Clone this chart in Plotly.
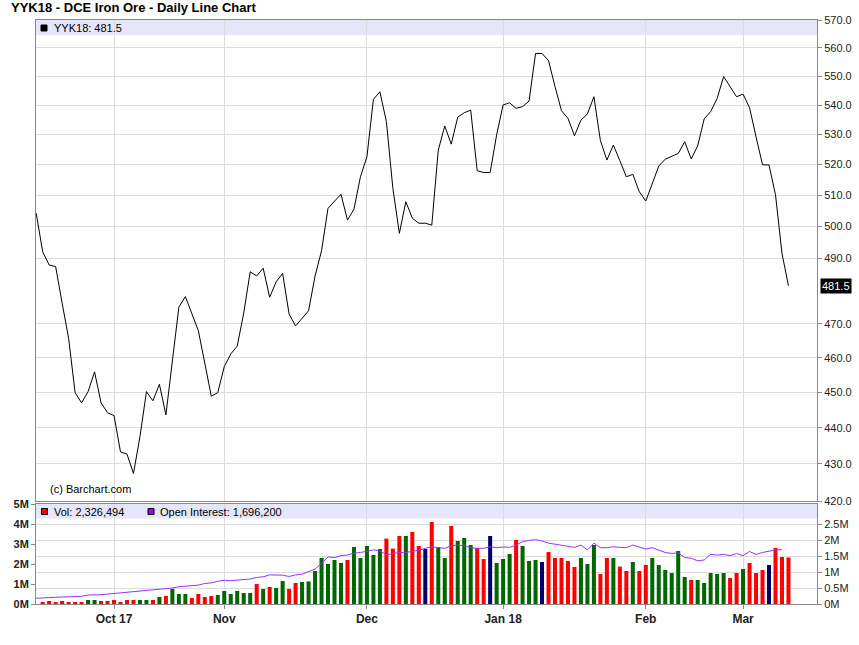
import math
import pandas as pd
import plotly.graph_objects as go

# ---------------- data ----------------
holidays = ["2017-10-02", "2017-10-03", "2017-10-04", "2017-10-05", "2017-10-06",
            "2018-01-01", "2018-02-15", "2018-02-16", "2018-02-19", "2018-02-20",
            "2018-02-21"]
dates = [d.strftime("%Y-%m-%d") for d in pd.bdate_range("2017-09-14", "2018-03-12")
         if d.strftime("%Y-%m-%d") not in holidays]

price = [504.2, 492.0, 487.9, 487.4, 476.2, 465.7, 449.9, 447.0, 450.2, 455.9,
         447.0, 444.2, 443.4, 433.3, 432.7, 427.4, 437.5, 450.2, 447.6, 452.3,
         443.6, 459.0, 475.0, 478.2, 473.2, 468.0, 458.4, 448.9, 449.9, 457.4,
         461.1, 463.4, 473.2, 485.8, 484.5, 486.9, 478.0, 482.7, 485.3, 472.9,
         469.4, 471.7, 473.9, 484.5, 492.3, 505.8, 507.9, 510.3, 502.0, 505.5,
         516.0, 522.6, 542.0, 544.6, 534.4, 512.2, 497.8, 507.9, 502.6, 501.0,
         501.0, 500.4, 524.8, 532.9, 526.8, 535.9, 537.4, 538.3, 518.0, 517.4,
         517.4, 529.9, 540.1, 540.8, 538.9, 539.5, 541.4, 558.0, 558.0, 555.5,
         546.4, 538.1, 535.5, 529.6, 534.9, 537.0, 542.9, 528.0, 521.5, 526.5,
         521.3, 516.0, 516.8, 511.1, 508.1, 513.8, 519.5, 521.8, 522.8, 523.7,
         527.6, 521.9, 526.2, 535.3, 537.8, 542.3, 549.9, 546.4, 542.9, 543.8,
         539.1, 529.3, 519.9, 519.9, 510.1, 491.5, 481.5]

# volume in millions
volume = [None, 0.10, 0.15, 0.10, 0.15, 0.10, 0.10, 0.10, 0.20, 0.20,
          0.15, 0.15, 0.20, 0.10, 0.20, 0.20, 0.20, 0.20, 0.20, 0.35,
          0.40, 0.75, 0.50, 0.50, 0.30, 0.50, 0.35, 0.40, 0.45, 0.65,
          0.50, 0.65, 0.55, 0.55, 1.00, 0.75, 0.85, 0.80, 1.15, 0.75,
          1.05, 1.10, 1.13, 1.65, 2.30, 2.00, 2.20, 2.05, 2.20, 2.85,
          2.30, 2.90, 2.45, 2.75, 3.27, 2.77, 3.40, 3.40, 3.60, 2.90,
          2.75, 4.10, 2.85, 2.30, 3.90, 3.15, 3.30, 2.95, 2.80, 2.25,
          3.40, 2.05, 2.25, 2.50, 3.20, 2.90, 2.15, 2.20, 2.10, 2.60,
          2.30, 2.30, 2.15, 1.85, 2.30, 2.00, 2.95, 1.50, 2.30, 2.30,
          1.87, 1.65, 2.10, 1.65, 1.95, 2.30, 1.95, 1.70, 1.55, 2.65,
          1.35, 1.20, 1.20, 1.05, 1.55, 1.50, 1.55, 1.30, 1.55, 1.75,
          2.05, 1.55, 1.70, 1.95, 2.80, 2.35, 2.326494]

# open interest in millions
open_interest = [0.18, 0.18, 0.20, 0.21, 0.22, 0.23, 0.23, 0.24, 0.28, 0.28,
                 0.29, 0.31, 0.33, 0.34, 0.37, 0.385, 0.41, 0.42, 0.44, 0.45,
                 0.47, 0.50, 0.54, 0.55, 0.57, 0.59, 0.64, 0.66, 0.71, 0.74,
                 0.73, 0.74, 0.75, 0.78, 0.83, 0.85, 0.91, 0.90, 0.90, 0.86,
                 0.91, 0.93, 1.00, 1.09, 1.27, 1.47, 1.45, 1.51, 1.53, 1.59,
                 1.61, 1.66, 1.69, 1.66, 1.53, 1.58, 1.61, 1.61, 1.64, 1.68,
                 1.74, 1.79, 1.76, 1.74, 1.82, 1.84, 1.82, 1.76, 1.74, 1.74,
                 1.79, 1.76, 1.78, 1.77, 1.84, 1.95, 1.99, 2.01, 1.97, 1.90,
                 1.87, 1.84, 1.79, 1.77, 1.84, 1.69, 1.90, 1.76, 1.76, 1.79,
                 1.77, 1.76, 1.84, 1.79, 1.72, 1.76, 1.69, 1.61, 1.58, 1.60,
                 1.45, 1.43, 1.35, 1.375, 1.55, 1.53, 1.55, 1.51, 1.58, 1.51,
                 1.64, 1.55, 1.61, 1.64, 1.69, 1.6962, None]

month_ticks = ["2017-10-09", "2017-11-01", "2017-12-01", "2018-01-02", "2018-02-01", "2018-03-01"]
month_labels = ["Oct 17", "Nov", "Dec", "Jan 18", "Feb", "Mar"]
price_ticks = [420, 430, 440, 450, 460, 470, 490, 500, 510, 520, 530, 540, 550, 560, 570]
vol_ticks = [0, 1, 2, 3, 4, 5]
oi_ticks = [0, 0.5, 1, 1.5, 2, 2.5]
oi_labels = ["0M", "0.5M", "1M", "1.5M", "2M", "2.5M"]

# ---------------- styling ----------------
FONT = "Liberation Sans, Arial, sans-serif"
GRID = "#dcdcdc"
AXIS = "#8a8a8a"
BAND = "#e6e6fa"
UP, DOWN, FLAT = "#006600", "#ff0000", "#000066"

W, H = 859, 645
L, R, T, B = 36, 42, 20, 41
PW, PH = W - L - R, H - T - B


def px(xp):
    return (xp - L) / PW


def py(yp):
    return (H - B - yp) / PH


bar_colors = [FLAT]
for i in range(1, len(price)):
    d = price[i] - price[i - 1]
    bar_colors.append(UP if d > 0 else (DOWN if d < 0 else FLAT))

fig = go.Figure()
fig.add_trace(go.Bar(x=dates, y=volume, marker=dict(color=bar_colors, line=dict(width=0)),
                     xaxis="x", yaxis="y", showlegend=False))
fig.add_trace(go.Scatter(x=dates, y=open_interest, mode="lines",
                         line=dict(color="#9933ff", width=1),
                         xaxis="x", yaxis="y2", showlegend=False))
fig.add_trace(go.Scatter(x=dates, y=price, mode="lines",
                         line=dict(color="#000000", width=1),
                         xaxis="x2", yaxis="y3", showlegend=False))

xr = [-0.03, 120.4]
main_bottom = py(501)
vol_top = py(504)

fig.update_layout(
    width=W, height=H, autosize=False,
    margin=dict(l=L, r=R, t=T, b=B, autoexpand=False),
    paper_bgcolor="white", plot_bgcolor="rgba(0,0,0,0)",
    font=dict(family=FONT, size=11, color="#222222"),
    bargap=0.38,
    xaxis=dict(domain=[0, 1], anchor="y", type="category", range=xr, automargin=False,
               tickvals=month_ticks, ticktext=["<b>%s</b>" % t for t in month_labels],
               tickfont=dict(size=12, color="#222222"),
               showgrid=True, gridcolor=GRID, ticks="outside", ticklen=4,
               tickcolor=AXIS, showline=True, linecolor=AXIS, mirror=True,
               zeroline=False),
    xaxis2=dict(domain=[0, 1], anchor="y3", type="category", matches="x", range=xr,
                automargin=False,
                tickvals=month_ticks, showticklabels=False, showgrid=True,
                gridcolor=GRID, ticks="", showline=True, linecolor=AXIS,
                mirror=True, zeroline=False),
    yaxis=dict(domain=[0, vol_top], anchor="x", side="left", range=[0, 5], automargin=False,
               tickvals=vol_ticks, ticktext=["<b>%dM</b>" % v for v in vol_ticks],
               tickfont=dict(size=11, color="#222222"),
               ticks="outside", ticklen=4, tickcolor=AXIS, showgrid=False,
               showline=True, linecolor=AXIS, zeroline=False),
    yaxis2=dict(overlaying="y", anchor="x", side="right", range=[0, 3.125], automargin=False,
                tickvals=oi_ticks, ticktext=oi_labels,
                tickfont=dict(size=11, color="#222222"),
                ticks="outside", ticklen=4, tickcolor=AXIS, showgrid=True,
                gridcolor=GRID, showline=True, linecolor=AXIS, zeroline=False),
    yaxis3=dict(domain=[main_bottom, 1], anchor="x2", side="right", type="log",
                range=[math.log10(420), math.log10(570)], automargin=False,
                tickvals=price_ticks, ticktext=["%.1f" % t for t in price_ticks],
                tickfont=dict(size=11, color="#222222"),
                ticks="outside", ticklen=4, tickcolor=AXIS, showgrid=True,
                gridcolor=GRID, showline=True, linecolor=AXIS, mirror=True,
                zeroline=False),
)

# legend bands
fig.add_shape(type="rect", xref="paper", yref="paper", x0=0, x1=1, y0=py(35), y1=1,
              fillcolor=BAND, line=dict(width=0), layer="below")
fig.add_shape(type="rect", xref="paper", yref="paper", x0=0, x1=1, y0=py(518.5), y1=vol_top,
              fillcolor=BAND, line=dict(width=0), layer="below")
# legend squares
fig.add_shape(type="rect", xref="paper", yref="paper", x0=px(41), x1=px(47), y0=py(31), y1=py(25),
              fillcolor="#000000", line=dict(color="#000000", width=1))
fig.add_shape(type="rect", xref="paper", yref="paper", x0=px(41.5), x1=px(47.5), y0=py(514.5), y1=py(508.5),
              fillcolor="#ff0000", line=dict(color="#000000", width=1))
fig.add_shape(type="rect", xref="paper", yref="paper", x0=px(148), x1=px(154), y0=py(514.5), y1=py(508.5),
              fillcolor="#9900ff", line=dict(color="#000000", width=1))

annos = [
    dict(text="<b>YYK18 - DCE Iron Ore - Daily Line Chart</b>", x=px(9), y=py(8),
         font=dict(size=13, color="#000000")),
    dict(text="YYK18: %.1f" % price[-1], x=px(52), y=py(28), font=dict(size=11, color="#000000")),
    dict(text="Vol: {:,}".format(int(round(volume[-1] * 1e6))), x=px(52), y=py(511.5),
         font=dict(size=11, color="#000000")),
    dict(text="Open Interest: {:,}".format(int(round(open_interest[-2] * 1e6 / 100)) * 100),
         x=px(158), y=py(511.5), font=dict(size=11, color="#000000")),
    dict(text="(c) Barchart.com", x=px(48), y=py(488.5), font=dict(size=11, color="#000000")),
]
for a in annos:
    fig.add_annotation(xref="paper", yref="paper", xanchor="left", yanchor="middle",
                       showarrow=False, **a)

# last price marker on the price axis
fig.add_annotation(xref="paper", yref="y3", x=1, y=math.log10(price[-1]), xanchor="left",
                   yanchor="middle", xshift=3, showarrow=False, text="%.1f" % price[-1],
                   bgcolor="#000000", font=dict(size=11, color="#ffffff"), borderpad=1)

fig.write_html("out.html", config={"displayModeBar": False},
               post_script="document.body.style.margin='0';document.body.style.overflow='hidden';")
